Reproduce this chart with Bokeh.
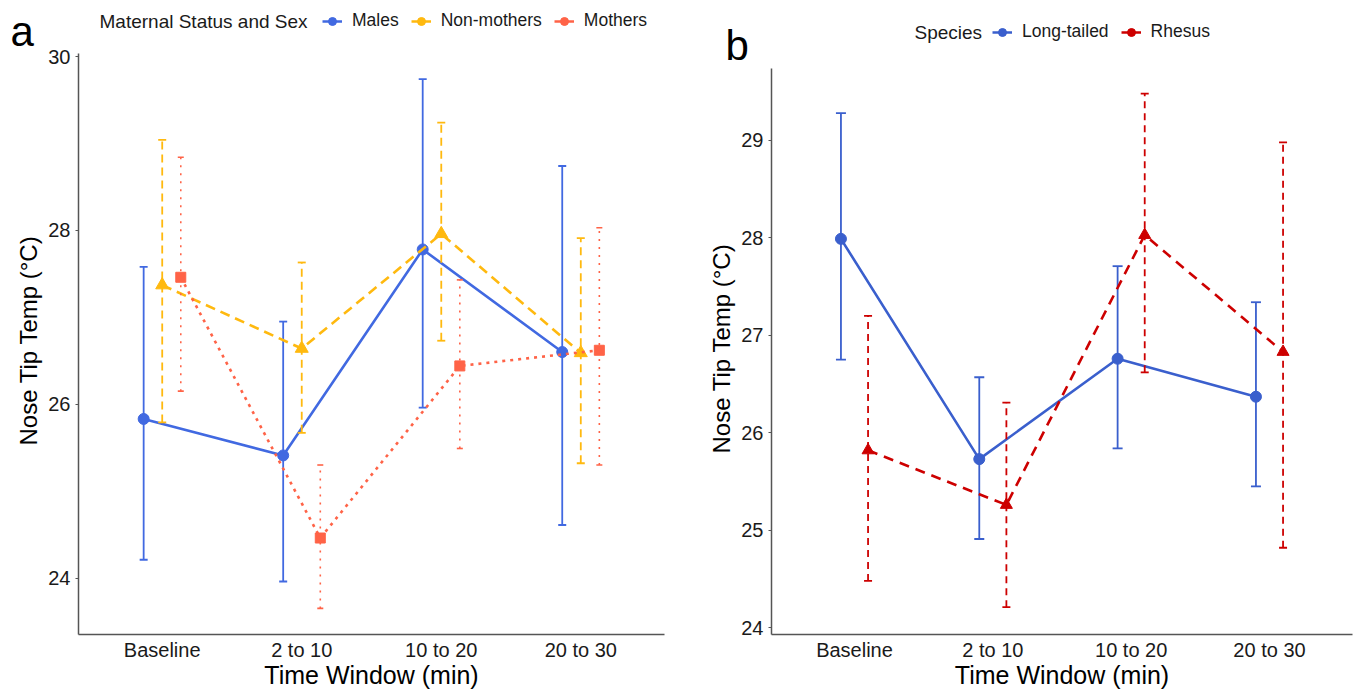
from bokeh.plotting import figure
from bokeh.models import ColumnDataSource, FactorRange, Range1d, Legend, LegendItem, Label, FixedTicker
from bokeh.transform import dodge
from bokeh.layouts import row, column
from bokeh.embed import file_html
from bokeh.resources import INLINE

time_windows = ["Baseline", "2 to 10", "10 to 20", "20 to 30"]

# Panel a: maternal status and sex
males_mean = [25.83, 25.41, 27.78, 26.60]
males_lower = [24.21, 23.96, 25.96, 24.61]
males_upper = [27.58, 26.95, 29.74, 28.74]
nonmothers_mean = [27.37, 26.64, 27.96, 26.59]
nonmothers_lower = [25.79, 25.67, 26.73, 25.32]
nonmothers_upper = [29.04, 27.63, 29.24, 27.91]
mothers_mean = [27.46, 24.46, 26.44, 26.62]
mothers_lower = [26.15, 23.65, 25.49, 25.30]
mothers_upper = [28.84, 25.30, 27.43, 28.03]

# Panel b: species
longtailed_mean = [27.99, 25.73, 26.76, 26.37]
longtailed_lower = [26.75, 24.91, 25.84, 25.45]
longtailed_upper = [29.28, 26.57, 27.71, 27.34]
rhesus_mean = [25.82, 25.26, 28.03, 26.83]
rhesus_lower = [24.48, 24.21, 26.62, 24.82]
rhesus_upper = [27.20, 26.31, 29.48, 28.98]

FONT = "Liberation Sans"
AXIS_COL = "#555555"
TOTAL_H = 692
NAN = float("nan")


def make_fig(width, height, left, right, yr, ybounds, yticks):
    p = figure(width=width, height=height,
               x_range=FactorRange(factors=time_windows, range_padding=0.1,
                                   range_padding_units="absolute"),
               y_range=Range1d(*yr), output_backend="svg", toolbar_location=None,
               title=None, min_border_left=left, min_border_right=right,
               min_border_top=0, min_border_bottom=58, frame_align=False)
    p.xgrid.visible = False
    p.ygrid.visible = False
    p.outline_line_color = None
    for ax in (p.xaxis[0], p.yaxis[0]):
        ax.axis_line_color = AXIS_COL
        ax.axis_line_width = 1.5
        ax.minor_tick_line_color = None
        ax.major_label_text_font = FONT
        ax.major_label_text_font_size = "20px"
        ax.major_label_text_color = "#1a1a1a"
        ax.axis_label_text_font = FONT
        ax.axis_label_text_font_style = "normal"
        ax.axis_label_text_color = "#000000"
    xa = p.xaxis[0]
    xa.major_tick_line_color = None
    xa.major_tick_out = 0
    xa.major_tick_in = 0
    xa.major_label_standoff = 4
    xa.axis_label = "Time Window (min)"
    xa.axis_label_text_font_size = "25px"
    xa.axis_label_standoff = -3
    ya = p.yaxis[0]
    ya.ticker = FixedTicker(ticks=yticks)
    ya.bounds = ybounds
    ya.major_tick_line_color = AXIS_COL
    ya.major_tick_out = 3
    ya.major_tick_in = 0
    ya.major_label_standoff = 5
    ya.axis_label = "Nose Tip Temp (°C)"
    ya.axis_label_text_font_size = "24px"
    ya.axis_label_standoff = 3
    return p


def make_header(width, height):
    # header strip above each panel: its frame covers the whole strip,
    # x / y in data units equal pixels from the left / bottom
    h = figure(width=width, height=height, x_range=Range1d(0, width),
               y_range=Range1d(0, height), output_backend="svg",
               toolbar_location=None, title=None, min_border=0,
               x_axis_location=None, y_axis_location=None, frame_align=False)
    h.xgrid.visible = False
    h.ygrid.visible = False
    h.outline_line_color = None
    return h


def add_series(p, mean, lower, upper, offset, color, line_dash, line_w,
               bar_dash, bar_w, cap, marker, msize):
    src = ColumnDataSource(dict(time=time_windows, mean=mean, lower=lower, upper=upper))
    xs = dodge("time", offset, range=p.x_range)
    p.segment(x0=xs, y0="lower", x1=xs, y1="upper", source=src,
              line_color=color, line_width=bar_w, line_dash=bar_dash)
    p.scatter(x=xs, y="upper", source=src, marker="dash", size=cap,
              line_color=color, line_width=bar_w)
    p.scatter(x=xs, y="lower", source=src, marker="dash", size=cap,
              line_color=color, line_width=bar_w)
    p.line(x=xs, y="mean", source=src, line_color=color, line_width=line_w,
           line_dash=line_dash)
    p.scatter(x=xs, y="mean", source=src, marker=marker, size=msize,
              fill_color=color, line_color=color)


def legend_item(h, label, color):
    # key-only renderers (no visible data) used to draw the legend keys
    ln = h.line(x=[NAN, NAN], y=[NAN, NAN], line_color=color, line_width=2.5)
    pt = h.scatter(x=[NAN], y=[NAN], marker="circle", size=9,
                   fill_color=color, line_color=color)
    return LegendItem(label=label, renderers=[ln, pt])


def make_legend(items, vx, vy, spacing):
    return Legend(items=items, orientation="horizontal", location=(vx, vy),
                  padding=0, margin=0, spacing=spacing, glyph_width=20, glyph_height=20,
                  label_height=20, label_standoff=10, label_text_font=FONT,
                  label_text_font_size="17.5px", label_text_baseline="middle",
                  label_text_color="#1a1a1a",
                  border_line_color=None, background_fill_alpha=0)


def text_label(h, x, y, text, size, color="#1a1a1a"):
    h.add_layout(Label(x=x, y=y, text=text, text_font=FONT, text_font_size=size,
                       text_baseline="middle", text_color=color))


# ---------------- Panel a ----------------
MALES_C = "#4169E1"
NONM_C = "#FFB90F"
MOTH_C = "#FF6347"
HA = 46
ha = make_header(680, HA)
pa = make_fig(680, TOTAL_H - HA, 78, 16, (23.35, 30.115), (23.35, 30.04), [24, 26, 28, 30])
add_series(pa, males_mean, males_lower, males_upper, -0.133, MALES_C,
           "solid", 2.6, "solid", 1.8, 8, "circle", 11)
add_series(pa, nonmothers_mean, nonmothers_lower, nonmothers_upper, 0.0, NONM_C,
           "10 6", 2.6, "8 5", 1.8, 8, "triangle", 13)
add_series(pa, mothers_mean, mothers_lower, mothers_upper, 0.133, MOTH_C,
           "3 5", 2.6, "2 6", 1.6, 6, "square", 10)
leg_a = make_legend([legend_item(ha, "Males", MALES_C),
                     legend_item(ha, "Non-mothers", NONM_C),
                     legend_item(ha, "Mothers", MOTH_C)], 322, HA - 31, 12)
ha.add_layout(leg_a)
text_label(ha, 99, HA - 21, "Maternal Status and Sex", "19px")
text_label(ha, 10, HA - 31, "a", "42px", "#000000")

# ---------------- Panel b ----------------
LT_C = "#3A5FCD"
RH_C = "#CD0000"
HB = 62
hb = make_header(673, HB)
pb = make_fig(673, TOTAL_H - HB, 91, 1, (23.93, 29.80), (23.93, 29.74),
              [24, 25, 26, 27, 28, 29])
add_series(pb, longtailed_mean, longtailed_lower, longtailed_upper, -0.098, LT_C,
           "solid", 2.6, "solid", 1.8, 10, "circle", 11)
add_series(pb, rhesus_mean, rhesus_lower, rhesus_upper, 0.098, RH_C,
           "10 7", 2.6, "7 5", 1.8, 8, "triangle", 12)
leg_b = make_legend([legend_item(hb, "Long-tailed", LT_C),
                     legend_item(hb, "Rhesus", RH_C)], 312, HB - 42, 12)
hb.add_layout(leg_b)
text_label(hb, 234, HB - 32, "Species", "19px")
text_label(hb, 45, HB - 45, "b", "42px", "#000000")

layout = row(column(ha, pa, spacing=0), column(hb, pb, spacing=0), spacing=0)
open("out.html", "w").write(file_html(layout, INLINE))
